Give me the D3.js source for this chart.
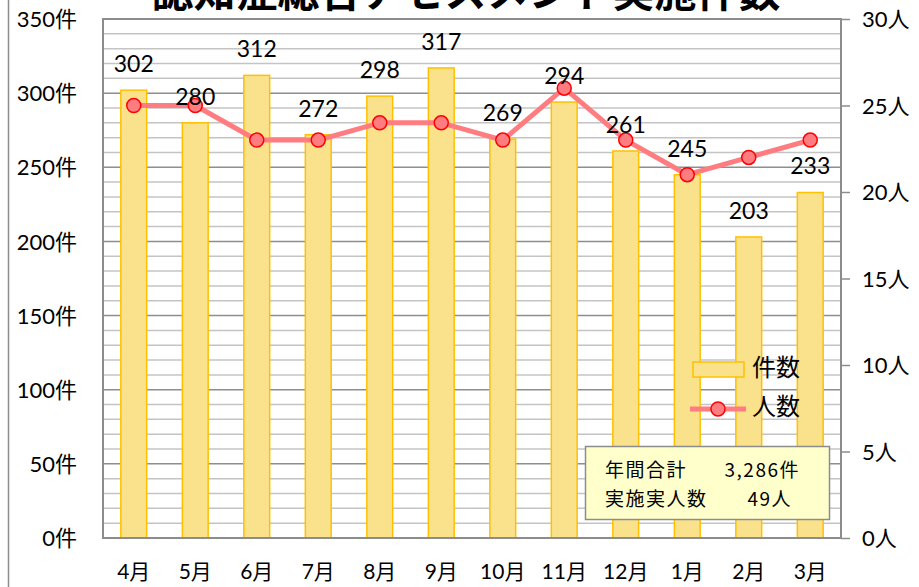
<!DOCTYPE html>
<html>
<head>
<meta charset="utf-8">
<script src="https://cdn.jsdelivr.net/npm/d3@7"></script>
<style>
  body { margin: 0; background: #fff; }
  svg { display: block; }
  .jp { font-family: "Noto Sans CJK JP", "Noto Sans", sans-serif; }
  .num { font-family: Lato, "Noto Sans CJK JP", sans-serif; }
</style>
</head>
<body>
<div id="chart"></div>
<script>
const months = ['4月', '5月', '6月', '7月', '8月', '9月', '10月', '11月', '12月', '1月', '2月', '3月'];
const cases = [302, 280, 312, 272, 298, 317, 269, 294, 261, 245, 203, 233];
const people = [25, 25, 23, 23, 24, 24, 23, 26, 23, 21, 22, 23];
const leftTicks = [0, 50, 100, 150, 200, 250, 300, 350];
const rightTicks = [0, 5, 10, 15, 20, 25, 30];
const summaryLabels = ['年間合計', '実施実人数'];
const summaryValues = ['3,286件', '49人'];

const width = 919;
const height = 587;
const margin = { top: 19, right: 78, bottom: 49, left: 103 };

const svg = d3.select('#chart')
  .append('svg')
  .attr('width', width)
  .attr('height', height);

// outer chart area frame
svg.append('rect')
  .attr('x', 8.5).attr('y', -5)
  .attr('width', 1000).attr('height', 700)
  .attr('fill', 'none')
  .attr('stroke', '#8c8c8c')
  .attr('stroke-width', 1.5);

const x = d3.scaleBand()
  .domain(months)
  .range([margin.left, width - margin.right])
  .padding(0);

const yLeft = d3.scaleLinear()
  .domain([0, 350])
  .range([height - margin.bottom, margin.top]);

const yRight = d3.scaleLinear()
  .domain([0, 30])
  .range([height - margin.bottom, margin.top]);

// gridlines: minor every 10, major every 50
svg.append('g')
  .selectAll('line')
  .data(d3.range(10, 350, 10))
  .join('line')
  .attr('x1', margin.left)
  .attr('x2', width - margin.right)
  .attr('y1', d => yLeft(d))
  .attr('y2', d => yLeft(d))
  .attr('stroke', d => d % 50 === 0 ? '#8e8e8e' : '#c4c4c4')
  .attr('stroke-width', 1.5);

// bars
const barW = x.bandwidth() * 0.42;
svg.append('g')
  .selectAll('rect')
  .data(cases)
  .join('rect')
  .attr('x', (d, i) => x(months[i]) + (x.bandwidth() - barW) / 2)
  .attr('y', d => yLeft(d))
  .attr('width', barW)
  .attr('height', d => yLeft(0) - yLeft(d))
  .attr('fill', '#fae18c')
  .attr('stroke', '#ffc000')
  .attr('stroke-width', 1.5);

// plot border
svg.append('rect')
  .attr('x', margin.left)
  .attr('y', margin.top)
  .attr('width', width - margin.right - margin.left)
  .attr('height', height - margin.bottom - margin.top)
  .attr('fill', 'none')
  .attr('stroke', '#8c8c8c')
  .attr('stroke-width', 2);

// left axis
const axisL = svg.append('g')
  .attr('transform', `translate(${margin.left - 23},0)`)
  .call(d3.axisLeft(yLeft).tickValues(leftTicks).tickSize(0).tickFormat(d => d + '件'));
axisL.select('.domain').remove();
axisL.selectAll('text')
  .attr('class', 'num')
  .attr('font-size', 22)
  .attr('fill', '#000')
  .attr('dy', '0.35em');

// right axis
const axisR = svg.append('g')
  .attr('transform', `translate(${width - margin.right},0)`)
  .call(d3.axisRight(yRight).tickValues(rightTicks).tickSize(9).tickPadding(12).tickFormat(d => d + '人'));
axisR.select('.domain').remove();
axisR.selectAll('line').attr('stroke', '#8c8c8c').attr('stroke-width', 1.5);
axisR.selectAll('text')
  .attr('class', 'num')
  .attr('font-size', 22)
  .attr('fill', '#000')
  .attr('dy', '0.35em');

// bottom axis
const axisB = svg.append('g')
  .attr('transform', `translate(0,${height - margin.bottom})`)
  .call(d3.axisBottom(x).tickSize(0).tickPadding(26));
axisB.select('.domain').remove();
axisB.selectAll('text')
  .attr('class', 'num')
  .attr('font-size', 21)
  .attr('fill', '#000');

// line of people
const line = d3.line()
  .x((d, i) => x(months[i]) + x.bandwidth() / 2)
  .y(d => yRight(d));

svg.append('path')
  .datum(people)
  .attr('d', line)
  .attr('fill', 'none')
  .attr('stroke', '#ff7c80')
  .attr('stroke-width', 5)
  .attr('stroke-linejoin', 'round');

svg.append('g')
  .selectAll('circle')
  .data(people)
  .join('circle')
  .attr('cx', (d, i) => x(months[i]) + x.bandwidth() / 2)
  .attr('cy', d => yRight(d))
  .attr('r', 7)
  .attr('fill', '#ff7c80')
  .attr('stroke', '#ff0000')
  .attr('stroke-width', 1.5);

// value labels
svg.append('g')
  .selectAll('text')
  .data(cases)
  .join('text')
  .attr('class', 'num')
  .attr('x', (d, i) => x(months[i]) + x.bandwidth() / 2)
  .attr('y', d => yLeft(d) - 18)
  .attr('text-anchor', 'middle')
  .attr('font-size', 23)
  .attr('fill', '#000')
  .text(d => d);

// legend
const legend = svg.append('g').attr('class', 'jp');
legend.append('rect')
  .attr('x', 693).attr('y', 362)
  .attr('width', 51).attr('height', 15)
  .attr('fill', '#fae18c')
  .attr('stroke', '#ffc000')
  .attr('stroke-width', 1.5);
legend.append('text')
  .attr('x', 752).attr('y', 368)
  .attr('dy', '0.35em')
  .attr('font-size', 24)
  .text('件数');
legend.append('line')
  .attr('x1', 690).attr('x2', 746)
  .attr('y1', 409).attr('y2', 409)
  .attr('stroke', '#ff7c80')
  .attr('stroke-width', 5);
legend.append('circle')
  .attr('cx', 718).attr('cy', 409).attr('r', 7)
  .attr('fill', '#ff7c80')
  .attr('stroke', '#ff0000')
  .attr('stroke-width', 1.5);
legend.append('text')
  .attr('x', 752).attr('y', 407)
  .attr('dy', '0.35em')
  .attr('font-size', 24)
  .text('人数');

// summary box
const box = svg.append('g').attr('class', 'jp');
box.append('rect')
  .attr('x', 585.5).attr('y', 446.5)
  .attr('width', 244).attr('height', 73)
  .attr('fill', '#ffffcc')
  .attr('stroke', '#8c8c8c')
  .attr('stroke-width', 1.5);
box.selectAll('text.lbl')
  .data(summaryLabels)
  .join('text')
  .attr('class', 'lbl')
  .attr('x', 605)
  .attr('y', (d, i) => 470 + i * 29)
  .attr('dy', '0.35em')
  .attr('font-size', 19)
  .attr('letter-spacing', 1.5)
  .text(d => d);
box.selectAll('text.val')
  .data(summaryValues)
  .join('text')
  .attr('class', 'val')
  .attr('x', (d, i) => i === 0 ? 800 : 792)
  .attr('y', (d, i) => 470 + i * 29)
  .attr('dy', '0.35em')
  .attr('text-anchor', 'end')
  .attr('font-size', 19)
  .attr('letter-spacing', 1.5)
  .text(d => d);

// title (cut by the top edge)
svg.append('text')
  .attr('class', 'jp')
  .attr('x', 466)
  .attr('y', 7)
  .attr('text-anchor', 'middle')
  .attr('font-size', 42)
  .attr('font-weight', 'bold')
  .text('認知症総合アセスメント実施件数');
</script>
</body>
</html>
